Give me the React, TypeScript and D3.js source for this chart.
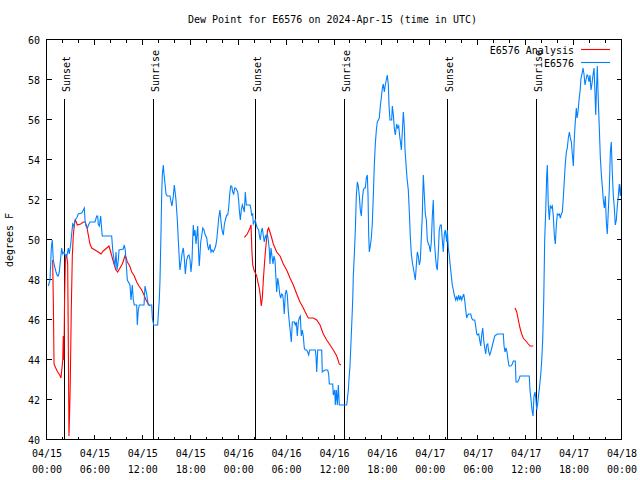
import React from "react";
import * as d3 from "d3";

const title = "Dew Point for E6576 on 2024-Apr-15 (time in UTC)";
const yLabel = "degrees F";
const startUtc = Date.UTC(2024, 3, 15, 0, 0);
const endUtc = Date.UTC(2024, 3, 18, 0, 0);
const yDomain = [40, 60];
const yTicks = [40, 42, 44, 46, 48, 50, 52, 54, 56, 58, 60];
const seriesNames = ["E6576 Analysis", "E6576"];
const seriesColors = ["#ff0000", "#0080ff"];

// Sun events: hours after 04/15 00:00 UTC
const sunHours = [2.17, 13.31, 26.17, 37.23, 50.13, 61.32];
const sunLabels = ["Sunset", "Sunrise", "Sunset", "Sunrise", "Sunset", "Sunrise"];
const sunLineTop = 57.05;

// Observed dew point [hours after start, °F]
const e6576: [number, number][] = [
  [0.16,47.7],[0.38,48.0],[0.54,49.6],[0.66,50.0],[0.79,49.0],[0.91,48.75],[1.13,48.4],[1.31,48.2],[1.41,48.2],[1.54,48.4],[1.72,49.15],[1.84,49.6],[1.97,49.3],[2.13,49.4],[2.38,49.15],[2.54,49.3],[2.67,49.6],[2.79,49.3],[2.97,49.8],[3.09,50.3],[3.22,50.8],[3.34,50.7],[3.51,51.0],[3.72,51.1],[3.92,51.3],[4.35,51.35],[4.55,51.5],[4.67,51.6],[4.76,51.0],[4.88,50.7],[5.05,50.6],[5.26,50.8],[5.38,50.9],[6.01,50.9],[6.22,51.2],[6.35,51.2],[6.42,50.8],[6.55,50.7],[6.72,51.2],[6.85,50.5],[6.92,50.2],[8.10,50.2],[8.23,49.5],[8.39,49.0],[8.51,48.65],[8.64,49.4],[8.77,48.5],[8.93,49.0],[9.02,49.5],[9.55,49.55],[9.68,49.75],[9.80,49.5],[9.89,49.0],[10.06,48.0],[10.39,47.75],[10.52,47.0],[10.68,47.75],[10.81,47.0],[10.93,46.75],[11.23,46.75],[11.31,45.75],[11.43,46.5],[11.56,46.75],[12.15,46.75],[12.27,47.7],[12.48,47.3],[12.68,46.75],[13.11,46.75],[13.19,46.1],[13.36,45.75],[13.86,45.75],[13.94,46.3],[14.06,47.0],[14.15,48.0],[14.28,50.5],[14.36,52.25],[14.44,53.25],[14.56,53.75],[14.65,53.3],[14.78,52.8],[14.90,52.3],[15.06,52.2],[15.40,52.2],[15.53,51.9],[15.65,51.7],[15.82,52.2],[15.94,52.75],[16.07,52.3],[16.15,52.0],[16.32,51.0],[16.44,50.0],[16.57,49.0],[16.65,48.5],[16.78,48.9],[16.94,49.4],[17.07,49.6],[17.19,49.1],[17.32,48.3],[17.49,49.0],[17.62,49.2],[17.78,49.25],[17.91,49.0],[18.03,48.4],[18.16,49.0],[18.24,50.0],[18.32,50.75],[18.41,50.2],[18.53,50.5],[18.66,49.8],[18.78,50.3],[18.87,50.7],[19.00,49.2],[19.07,48.7],[19.25,49.9],[19.37,50.2],[19.50,50.6],[19.66,50.5],[19.78,50.3],[20.00,50.1],[20.12,49.7],[20.25,49.5],[20.41,49.8],[20.54,49.4],[20.66,49.5],[20.82,49.4],[20.95,49.5],[21.12,49.7],[21.25,50.0],[21.37,50.5],[21.50,51.1],[21.66,51.5],[21.79,50.9],[21.91,50.5],[22.08,50.25],[22.20,50.75],[22.33,51.0],[22.50,51.25],[22.63,51.25],[22.75,51.6],[22.88,52.3],[23.00,52.7],[23.13,52.7],[23.25,52.4],[23.38,52.3],[23.50,52.6],[23.63,52.6],[23.75,52.5],[23.88,52.4],[24.00,52.0],[24.08,51.5],[24.21,51.0],[24.33,51.5],[24.46,51.75],[24.58,51.6],[24.71,51.4],[24.83,52.4],[24.96,51.75],[25.42,51.75],[25.51,51.6],[25.63,51.25],[25.76,51.3],[25.83,50.8],[25.96,50.9],[26.08,51.0],[26.21,50.75],[26.33,50.6],[26.51,50.5],[26.58,50.25],[26.71,50.0],[26.83,50.4],[26.96,50.6],[27.09,50.2],[27.21,49.9],[27.34,50.2],[27.46,50.1],[27.59,50.3],[27.71,50.0],[27.84,49.5],[27.92,48.8],[28.05,49.6],[28.17,49.2],[28.30,48.8],[28.42,49.2],[28.55,49.0],[28.68,48.0],[28.76,47.4],[28.89,48.1],[29.01,47.8],[29.14,47.3],[29.26,47.1],[29.39,47.3],[29.51,47.25],[29.59,47.0],[29.71,46.3],[29.84,47.3],[29.97,47.5],[30.09,47.25],[30.22,46.4],[30.34,45.9],[30.47,45.4],[30.59,44.9],[30.72,45.9],[30.97,45.9],[31.09,45.75],[31.22,45.9],[31.34,45.2],[31.47,45.9],[31.59,46.1],[31.72,46.2],[31.84,45.2],[31.97,45.5],[32.09,45.2],[32.22,44.6],[32.34,44.5],[32.52,44.5],[32.64,44.4],[32.77,44.25],[32.89,44.5],[33.60,44.5],[33.68,44.2],[33.77,43.4],[33.90,44.5],[34.40,44.5],[34.47,43.4],[34.81,43.5],[35.15,43.5],[35.27,43.3],[35.35,42.8],[35.78,42.8],[35.85,42.25],[36.03,42.5],[36.10,41.75],[36.23,42.5],[36.35,41.75],[36.48,42.75],[36.60,41.75],[37.53,41.75],[37.60,42.0],[37.73,42.5],[37.85,43.25],[37.94,43.7],[38.13,45.5],[38.28,47.0],[38.36,48.25],[38.48,49.25],[38.61,50.5],[38.73,52.2],[38.86,52.9],[38.98,52.7],[39.11,52.2],[39.23,51.5],[39.36,51.2],[39.48,52.0],[39.61,52.5],[39.73,52.6],[39.86,52.6],[39.98,53.1],[40.11,53.25],[40.20,52.2],[40.28,50.3],[40.36,49.4],[40.48,49.7],[40.61,50.1],[40.73,50.8],[40.86,52.2],[40.98,53.7],[41.11,54.8],[41.24,55.5],[41.36,55.9],[41.49,56.0],[41.61,56.1],[41.74,56.7],[41.86,57.1],[41.99,57.6],[42.11,57.8],[42.24,57.4],[42.36,57.75],[42.49,58.0],[42.61,58.25],[42.74,57.75],[42.83,56.7],[42.95,56.0],[43.16,56.0],[43.24,56.7],[43.36,56.3],[43.49,55.6],[43.61,55.25],[43.79,55.8],[43.91,55.6],[44.04,55.7],[44.16,55.2],[44.29,54.8],[44.37,54.5],[44.49,55.4],[44.62,56.4],[44.74,55.7],[44.83,54.5],[44.95,53.8],[45.08,53.1],[45.24,52.5],[45.37,51.4],[45.49,50.2],[45.62,49.3],[45.74,48.9],[45.87,48.6],[45.99,48.3],[46.12,48.0],[46.24,48.7],[46.37,49.4],[46.49,49.2],[46.62,48.75],[46.75,49.0],[46.87,50.1],[46.99,51.2],[47.12,53.25],[47.25,52.25],[47.37,51.3],[47.50,51.0],[47.62,50.0],[47.75,49.8],[47.87,49.7],[48.00,49.4],[48.12,49.9],[48.25,51.2],[48.37,52.0],[48.50,50.0],[48.62,49.3],[48.75,48.7],[48.87,48.5],[49.00,49.4],[49.12,50.5],[49.25,50.75],[49.37,50.75],[49.50,50.0],[49.62,49.4],[49.75,50.3],[49.87,50.5],[50.05,49.9],[50.13,50.5],[50.25,49.6],[50.38,49.2],[50.50,48.7],[50.63,48.2],[50.75,47.75],[50.88,47.5],[51.00,47.25],[51.18,47.0],[51.30,47.15],[51.43,47.0],[51.55,47.25],[51.68,47.0],[51.80,47.2],[51.93,47.0],[52.05,47.15],[52.18,47.3],[52.30,47.0],[52.43,46.5],[52.55,46.1],[52.68,46.25],[52.80,46.3],[53.06,46.3],[53.18,46.1],[53.31,46.0],[53.56,46.0],[53.68,45.7],[53.81,45.3],[53.93,45.25],[54.06,45.3],[54.18,45.0],[54.31,44.7],[54.43,45.25],[54.56,45.6],[54.68,45.0],[54.81,44.6],[54.93,44.3],[55.06,44.75],[55.19,44.8],[55.31,44.4],[55.44,44.25],[55.56,44.4],[55.69,44.6],[55.81,44.8],[55.94,45.0],[56.06,45.2],[56.22,45.25],[56.39,45.3],[57.14,45.3],[57.23,44.7],[57.35,44.4],[57.48,44.6],[57.60,44.4],[57.73,44.0],[57.85,43.7],[58.10,43.7],[58.27,43.8],[58.39,43.95],[58.64,43.95],[58.73,42.9],[58.94,42.9],[59.07,43.0],[59.23,43.2],[60.39,43.2],[60.48,42.5],[60.61,42.0],[60.73,41.5],[60.86,41.2],[60.98,42.2],[61.11,42.4],[61.23,42.0],[61.32,41.5],[61.44,41.8],[61.57,42.3],[61.70,42.75],[61.82,43.25],[61.95,44.0],[62.07,45.0],[62.20,47.0],[62.32,50.0],[62.45,51.5],[62.57,53.2],[62.65,53.75],[62.77,51.75],[62.90,51.0],[63.02,51.7],[63.15,51.6],[63.27,51.7],[63.40,51.2],[63.53,50.2],[63.65,49.8],[63.78,50.75],[63.90,51.3],[64.03,51.25],[64.15,51.3],[64.28,51.1],[64.40,51.3],[64.53,51.4],[64.65,52.1],[64.78,53.0],[64.90,53.8],[65.03,54.4],[65.15,54.6],[65.28,55.1],[65.41,55.4],[65.53,55.1],[65.66,54.9],[65.78,54.3],[65.91,53.7],[66.03,55.1],[66.15,55.9],[66.28,56.6],[66.37,56.1],[66.49,56.4],[66.62,57.0],[66.74,57.4],[66.87,58.1],[66.99,58.3],[67.12,58.6],[67.24,58.3],[67.37,57.75],[67.49,58.0],[67.62,58.25],[67.74,58.2],[67.87,57.9],[67.99,58.25],[68.12,57.5],[68.24,57.8],[68.37,58.25],[68.50,58.6],[68.62,57.3],[68.71,56.25],[68.81,57.6],[68.91,58.7],[69.03,57.0],[69.16,55.6],[69.28,54.2],[69.41,53.3],[69.53,52.7],[69.66,52.0],[69.79,51.6],[69.91,52.2],[70.04,50.9],[70.16,50.3],[70.29,51.5],[70.41,52.5],[70.54,54.4],[70.66,54.9],[70.79,53.3],[70.91,52.25],[71.04,51.6],[71.16,50.75],[71.29,51.0],[71.41,51.7],[71.54,52.2],[71.66,52.8],[71.79,52.2],[71.91,52.8]
];

// Analysis segments [hours after start, °F]
const analysisSeg1: [number, number][] = [
  [0.71,49.0],[0.80,46.7],[0.88,43.8],[1.09,43.6],[1.34,43.4],[1.59,43.25],[1.75,43.1],[1.97,44.0],[2.04,45.2],[2.12,44.0],[2.20,47.0],[2.30,49.0],[2.45,49.3],[2.59,48.8],[2.67,44.8],[2.75,40.2],[2.84,41.5],[2.92,43.0],[3.04,46.5],[3.17,49.2],[3.29,50.2],[3.42,50.75],[3.54,51.0],[3.67,50.9],[3.79,50.75],[4.22,50.8],[4.55,50.9],[4.76,50.9],[4.97,50.7],[5.17,50.25],[5.38,49.8],[5.60,49.6],[6.01,49.5],[6.42,49.4],[6.76,49.3],[7.05,49.45],[7.48,49.6],[7.76,49.7],[7.98,49.4],[8.18,49.1],[8.43,48.75],[8.64,48.5],[8.85,48.4],[9.14,48.6],[9.43,48.8],[9.68,49.1],[9.80,49.25],[10.06,48.9],[10.36,48.7],[10.61,48.4],[10.93,48.2],[11.23,47.9],[11.52,47.7],[11.86,47.5],[12.15,47.25],[12.40,47.0],[12.68,46.8],[12.90,46.7]
];
const analysisSeg2: [number, number][] = [
  [24.71,50.13],[25.08,50.3],[25.42,50.6],[25.55,50.75],[25.65,49.5],[25.76,48.75],[25.92,48.5],[26.26,48.2],[26.46,47.8],[26.58,47.6],[26.71,47.2],[26.83,46.7],[26.96,47.1],[27.09,48.0],[27.21,48.7],[27.34,49.4],[27.51,50.1],[27.63,50.5],[27.75,50.6],[27.92,50.4],[28.14,50.1],[28.34,49.8],[28.76,49.4],[29.18,49.2],[29.59,48.8],[30.01,48.5],[30.43,48.1],[30.84,47.75],[31.27,47.3],[31.68,46.9],[32.09,46.6],[32.52,46.25],[32.72,46.1],[33.35,46.1],[33.77,46.0],[34.19,45.75],[34.60,45.3],[35.02,45.0],[35.44,44.75],[35.85,44.5],[36.28,44.2],[36.60,43.8],[36.81,43.75]
];
const analysisSeg3: [number, number][] = [
  [58.60,46.6],[58.82,46.4],[59.02,46.0],[59.23,45.6],[59.44,45.3],[59.64,45.1],[59.86,45.0],[60.07,44.9],[60.27,44.8],[60.48,44.7],[60.89,44.7]
];

const W = 640;
const H = 480;
const M = { left: 47, right: 18, top: 40, bottom: 40 };
const FONT = "'DejaVu Sans Mono', 'Liberation Mono', monospace";

const toDate = (h: number) => new Date(startUtc + h * 3600 * 1000);

export default function App() {
  const x = d3.scaleUtc().domain([new Date(startUtc), new Date(endUtc)]).range([M.left, W - M.right]);
  const y = d3.scaleLinear().domain(yDomain).range([H - M.bottom, M.top]);
  const line = d3
    .line<[number, number]>()
    .x((d) => x(toDate(d[0])))
    .y((d) => y(d[1]));

  const majorTicks = x.ticks(d3.utcHour.every(6) as any);
  const minorTicks = x.ticks(d3.utcHour.every(2) as any).filter((t) => t.getUTCHours() % 6 !== 0);
  const fmtDate = d3.utcFormat("%m/%d");
  const fmtTime = d3.utcFormat("%H:%M");

  const [x0, x1] = x.range();
  const [yb, yt] = y.range();
  const majorLen = 5;
  const minorLen = 3;

  return (
    <svg width={W} height={H} style={{ display: "block", position: "absolute", left: 0, top: 0, background: "#fff" }}
      fontFamily={FONT} fontSize={10}>
      <rect x={0} y={0} width={W} height={H} fill="#fff" />
      {/* title */}
      <text x={(x0 + x1) / 2 - 2} y={23} textAnchor="middle" fill="#000">{title}</text>
      {/* y label */}
      <text transform={`translate(13,${(yb + yt) / 2}) rotate(-90)`} textAnchor="middle" fill="#000">{yLabel}</text>

      {/* y ticks */}
      {yTicks.map((v) => (
        <g key={"y" + v}>
          <line x1={x0} x2={x0 + majorLen} y1={Math.round(y(v)) - 0.5} y2={Math.round(y(v)) - 0.5} stroke="#000" />
          <line x1={x1 - majorLen} x2={x1} y1={Math.round(y(v)) - 0.5} y2={Math.round(y(v)) - 0.5} stroke="#000" />
          <text x={40} y={y(v) + 3.5} textAnchor="end" fill="#000">{v}</text>
        </g>
      ))}

      {/* x ticks */}
      {majorTicks.map((t) => {
        const px = Math.round(x(t)) - 0.5;
        return (
          <g key={"xm" + t.getTime()}>
            <line x1={px} x2={px} y1={yb} y2={yb - majorLen} stroke="#000" />
            <line x1={px} x2={px} y1={yt} y2={yt + majorLen} stroke="#000" />
            <text x={x(t)} y={457} textAnchor="middle" fill="#000">{fmtDate(t)}</text>
            <text x={x(t)} y={473} textAnchor="middle" fill="#000">{fmtTime(t)}</text>
          </g>
        );
      })}
      {minorTicks.map((t) => {
        const px = Math.round(x(t)) - 0.5;
        return (
          <g key={"xn" + t.getTime()}>
            <line x1={px} x2={px} y1={yb} y2={yb - minorLen} stroke="#000" />
            <line x1={px} x2={px} y1={yt} y2={yt + minorLen} stroke="#000" />
          </g>
        );
      })}

      {/* sun lines */}
      {sunHours.map((h, i) => {
        const px = Math.floor(x(toDate(h))) + 0.5;
        return (
          <g key={"sun" + i}>
            <line x1={px} x2={px} y1={y(sunLineTop)} y2={yb} stroke="#000" />
            <text transform={`translate(${px + 5},92) rotate(-90)`} textAnchor="start" fill="#000">{sunLabels[i]}</text>
          </g>
        );
      })}

      {/* series */}
      {[analysisSeg1, analysisSeg2, analysisSeg3].map((seg, i) => (
        <path key={"a" + i} d={line(seg) || ""} fill="none" stroke={seriesColors[0]} strokeWidth={1.1} />
      ))}
      <path d={line(e6576) || ""} fill="none" stroke={seriesColors[1]} strokeWidth={1.1} />

      {/* legend */}
      {seriesNames.map((name, i) => (
        <g key={"lg" + i}>
          <text x={574} y={53.5 + i * 13} textAnchor="end" fill="#000">{name}</text>
          <line x1={581} x2={610} y1={49.5 + i * 13} y2={49.5 + i * 13} stroke={seriesColors[i]} strokeWidth={1.1} />
        </g>
      ))}

      {/* frame */}
      <rect x={x0 - 0.5} y={yt - 0.5} width={x1 - x0} height={yb - yt} fill="none" stroke="#000" />
    </svg>
  );
}
